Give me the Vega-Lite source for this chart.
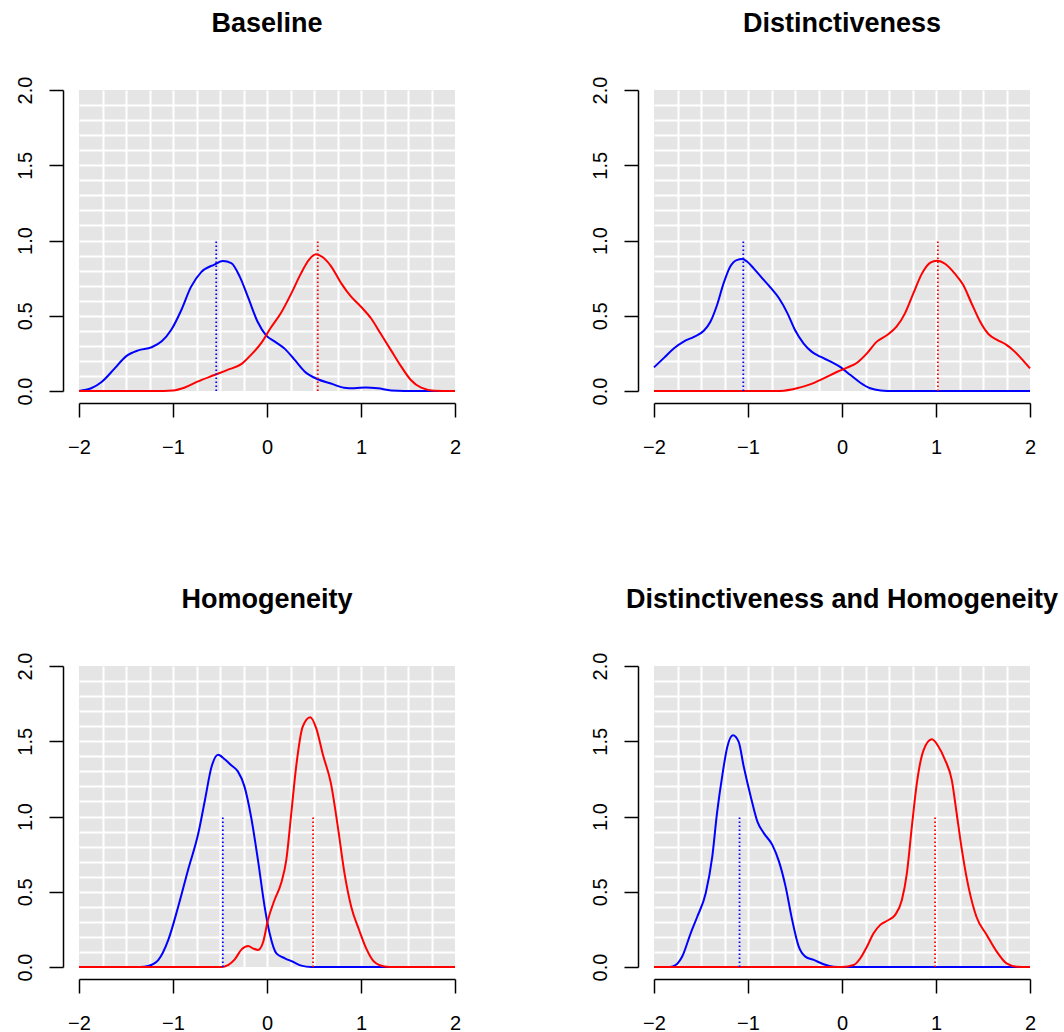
{
  "$schema": "https://vega.github.io/schema/vega-lite/v6.json",
  "background": "white",
  "padding": {"left": 14, "top": 10, "right": 5, "bottom": 5},
  "config": {
    "view": {"fill": "#e5e5e5", "stroke": null},
    "title": {"font": "Liberation Sans", "fontSize": 27, "fontWeight": "bold", "anchor": "middle", "frame": "group", "baseline": "alphabetic", "offset": 38, "color": "black"}
  },
  "datasets": {
    "curves": [
      {"panel":"Baseline","series":"blue","x":-2,"y":0},{"panel":"Baseline","series":"blue","x":-1.87,"y":0.018},{"panel":"Baseline","series":"blue","x":-1.76,"y":0.06},{"panel":"Baseline","series":"blue","x":-1.62,"y":0.15},{"panel":"Baseline","series":"blue","x":-1.5,"y":0.23},{"panel":"Baseline","series":"blue","x":-1.37,"y":0.27},{"panel":"Baseline","series":"blue","x":-1.23,"y":0.29},{"panel":"Baseline","series":"blue","x":-1.12,"y":0.33},{"panel":"Baseline","series":"blue","x":-1.02,"y":0.405},{"panel":"Baseline","series":"blue","x":-0.91,"y":0.54},{"panel":"Baseline","series":"blue","x":-0.81,"y":0.69},{"panel":"Baseline","series":"blue","x":-0.7,"y":0.79},{"panel":"Baseline","series":"blue","x":-0.56,"y":0.84},{"panel":"Baseline","series":"blue","x":-0.47,"y":0.864},{"panel":"Baseline","series":"blue","x":-0.38,"y":0.85},{"panel":"Baseline","series":"blue","x":-0.29,"y":0.76},{"panel":"Baseline","series":"blue","x":-0.2,"y":0.62},{"panel":"Baseline","series":"blue","x":-0.1,"y":0.46},{"panel":"Baseline","series":"blue","x":-0.01,"y":0.37},{"panel":"Baseline","series":"blue","x":0.08,"y":0.33},{"panel":"Baseline","series":"blue","x":0.19,"y":0.28},{"panel":"Baseline","series":"blue","x":0.29,"y":0.21},{"panel":"Baseline","series":"blue","x":0.4,"y":0.13},{"panel":"Baseline","series":"blue","x":0.54,"y":0.078},{"panel":"Baseline","series":"blue","x":0.68,"y":0.05},{"panel":"Baseline","series":"blue","x":0.82,"y":0.022},{"panel":"Baseline","series":"blue","x":0.93,"y":0.018},{"panel":"Baseline","series":"blue","x":1.05,"y":0.024},{"panel":"Baseline","series":"blue","x":1.18,"y":0.018},{"panel":"Baseline","series":"blue","x":1.32,"y":0.004},{"panel":"Baseline","series":"blue","x":1.6,"y":0},{"panel":"Baseline","series":"blue","x":2,"y":0},
      {"panel":"Baseline","series":"red","x":-2,"y":0},{"panel":"Baseline","series":"red","x":-1.2,"y":0},{"panel":"Baseline","series":"red","x":-1.0,"y":0.004},{"panel":"Baseline","series":"red","x":-0.88,"y":0.022},{"panel":"Baseline","series":"red","x":-0.74,"y":0.062},{"panel":"Baseline","series":"red","x":-0.56,"y":0.106},{"panel":"Baseline","series":"red","x":-0.42,"y":0.14},{"panel":"Baseline","series":"red","x":-0.27,"y":0.18},{"panel":"Baseline","series":"red","x":-0.17,"y":0.24},{"panel":"Baseline","series":"red","x":-0.06,"y":0.32},{"panel":"Baseline","series":"red","x":0.04,"y":0.42},{"panel":"Baseline","series":"red","x":0.15,"y":0.52},{"panel":"Baseline","series":"red","x":0.26,"y":0.65},{"panel":"Baseline","series":"red","x":0.36,"y":0.78},{"panel":"Baseline","series":"red","x":0.45,"y":0.875},{"panel":"Baseline","series":"red","x":0.52,"y":0.908},{"panel":"Baseline","series":"red","x":0.59,"y":0.89},{"panel":"Baseline","series":"red","x":0.68,"y":0.83},{"panel":"Baseline","series":"red","x":0.79,"y":0.715},{"panel":"Baseline","series":"red","x":0.89,"y":0.63},{"panel":"Baseline","series":"red","x":1.0,"y":0.56},{"panel":"Baseline","series":"red","x":1.11,"y":0.48},{"panel":"Baseline","series":"red","x":1.21,"y":0.38},{"panel":"Baseline","series":"red","x":1.32,"y":0.27},{"panel":"Baseline","series":"red","x":1.43,"y":0.16},{"panel":"Baseline","series":"red","x":1.53,"y":0.073},{"panel":"Baseline","series":"red","x":1.64,"y":0.022},{"panel":"Baseline","series":"red","x":1.78,"y":0.002},{"panel":"Baseline","series":"red","x":2,"y":0},

      {"panel":"Distinctiveness","series":"blue","x":-2,"y":0.157},{"panel":"Distinctiveness","series":"blue","x":-1.894,"y":0.22},{"panel":"Distinctiveness","series":"blue","x":-1.79,"y":0.283},{"panel":"Distinctiveness","series":"blue","x":-1.68,"y":0.33},{"panel":"Distinctiveness","series":"blue","x":-1.575,"y":0.36},{"panel":"Distinctiveness","series":"blue","x":-1.47,"y":0.4},{"panel":"Distinctiveness","series":"blue","x":-1.4,"y":0.46},{"panel":"Distinctiveness","series":"blue","x":-1.33,"y":0.57},{"panel":"Distinctiveness","series":"blue","x":-1.26,"y":0.715},{"panel":"Distinctiveness","series":"blue","x":-1.19,"y":0.826},{"panel":"Distinctiveness","series":"blue","x":-1.12,"y":0.87},{"panel":"Distinctiveness","series":"blue","x":-1.06,"y":0.877},{"panel":"Distinctiveness","series":"blue","x":-1.01,"y":0.86},{"panel":"Distinctiveness","series":"blue","x":-0.94,"y":0.815},{"panel":"Distinctiveness","series":"blue","x":-0.85,"y":0.75},{"panel":"Distinctiveness","series":"blue","x":-0.76,"y":0.687},{"panel":"Distinctiveness","series":"blue","x":-0.67,"y":0.616},{"panel":"Distinctiveness","series":"blue","x":-0.58,"y":0.516},{"panel":"Distinctiveness","series":"blue","x":-0.5,"y":0.405},{"panel":"Distinctiveness","series":"blue","x":-0.41,"y":0.317},{"panel":"Distinctiveness","series":"blue","x":-0.32,"y":0.26},{"panel":"Distinctiveness","series":"blue","x":-0.23,"y":0.228},{"panel":"Distinctiveness","series":"blue","x":-0.12,"y":0.195},{"panel":"Distinctiveness","series":"blue","x":-0.02,"y":0.16},{"panel":"Distinctiveness","series":"blue","x":0.09,"y":0.106},{"panel":"Distinctiveness","series":"blue","x":0.195,"y":0.055},{"panel":"Distinctiveness","series":"blue","x":0.3,"y":0.018},{"panel":"Distinctiveness","series":"blue","x":0.41,"y":0.004},{"panel":"Distinctiveness","series":"blue","x":0.55,"y":0},{"panel":"Distinctiveness","series":"blue","x":2,"y":0},
      {"panel":"Distinctiveness","series":"red","x":-2,"y":0},{"panel":"Distinctiveness","series":"red","x":-0.7,"y":0},{"panel":"Distinctiveness","series":"red","x":-0.62,"y":0.002},{"panel":"Distinctiveness","series":"red","x":-0.48,"y":0.018},{"panel":"Distinctiveness","series":"red","x":-0.34,"y":0.044},{"panel":"Distinctiveness","series":"red","x":-0.195,"y":0.084},{"panel":"Distinctiveness","series":"red","x":-0.05,"y":0.128},{"panel":"Distinctiveness","series":"red","x":0.053,"y":0.155},{"panel":"Distinctiveness","series":"red","x":0.16,"y":0.188},{"panel":"Distinctiveness","series":"red","x":0.265,"y":0.25},{"panel":"Distinctiveness","series":"red","x":0.37,"y":0.328},{"panel":"Distinctiveness","series":"red","x":0.48,"y":0.372},{"panel":"Distinctiveness","series":"red","x":0.58,"y":0.427},{"panel":"Distinctiveness","series":"red","x":0.67,"y":0.516},{"panel":"Distinctiveness","series":"red","x":0.76,"y":0.65},{"panel":"Distinctiveness","series":"red","x":0.85,"y":0.78},{"panel":"Distinctiveness","series":"red","x":0.94,"y":0.853},{"panel":"Distinctiveness","series":"red","x":1.01,"y":0.866},{"panel":"Distinctiveness","series":"red","x":1.1,"y":0.844},{"panel":"Distinctiveness","series":"red","x":1.2,"y":0.78},{"panel":"Distinctiveness","series":"red","x":1.29,"y":0.704},{"panel":"Distinctiveness","series":"red","x":1.38,"y":0.58},{"panel":"Distinctiveness","series":"red","x":1.47,"y":0.46},{"panel":"Distinctiveness","series":"red","x":1.56,"y":0.377},{"panel":"Distinctiveness","series":"red","x":1.65,"y":0.34},{"panel":"Distinctiveness","series":"red","x":1.75,"y":0.306},{"panel":"Distinctiveness","series":"red","x":1.84,"y":0.26},{"panel":"Distinctiveness","series":"red","x":1.93,"y":0.2},{"panel":"Distinctiveness","series":"red","x":2,"y":0.15},

      {"panel":"Homogeneity","series":"blue","x":-2,"y":0},{"panel":"Homogeneity","series":"blue","x":-1.35,"y":0},{"panel":"Homogeneity","series":"blue","x":-1.264,"y":0.007},{"panel":"Homogeneity","series":"blue","x":-1.157,"y":0.046},{"panel":"Homogeneity","series":"blue","x":-1.05,"y":0.18},{"panel":"Homogeneity","series":"blue","x":-0.945,"y":0.4},{"panel":"Homogeneity","series":"blue","x":-0.84,"y":0.645},{"panel":"Homogeneity","series":"blue","x":-0.73,"y":0.89},{"panel":"Homogeneity","series":"blue","x":-0.66,"y":1.11},{"panel":"Homogeneity","series":"blue","x":-0.59,"y":1.33},{"panel":"Homogeneity","series":"blue","x":-0.52,"y":1.41},{"panel":"Homogeneity","series":"blue","x":-0.45,"y":1.38},{"panel":"Homogeneity","series":"blue","x":-0.38,"y":1.34},{"panel":"Homogeneity","series":"blue","x":-0.31,"y":1.3},{"panel":"Homogeneity","series":"blue","x":-0.24,"y":1.2},{"panel":"Homogeneity","series":"blue","x":-0.17,"y":1.0},{"panel":"Homogeneity","series":"blue","x":-0.096,"y":0.71},{"panel":"Homogeneity","series":"blue","x":-0.025,"y":0.4},{"panel":"Homogeneity","series":"blue","x":0.028,"y":0.224},{"panel":"Homogeneity","series":"blue","x":0.1,"y":0.09},{"panel":"Homogeneity","series":"blue","x":0.19,"y":0.058},{"panel":"Homogeneity","series":"blue","x":0.276,"y":0.035},{"panel":"Homogeneity","series":"blue","x":0.365,"y":0.009},{"panel":"Homogeneity","series":"blue","x":0.47,"y":0},{"panel":"Homogeneity","series":"blue","x":2,"y":0},
      {"panel":"Homogeneity","series":"red","x":-2,"y":0},{"panel":"Homogeneity","series":"red","x":-0.485,"y":0},{"panel":"Homogeneity","series":"red","x":-0.414,"y":0.013},{"panel":"Homogeneity","series":"red","x":-0.343,"y":0.051},{"panel":"Homogeneity","series":"red","x":-0.27,"y":0.117},{"panel":"Homogeneity","series":"red","x":-0.2,"y":0.14},{"panel":"Homogeneity","series":"red","x":-0.15,"y":0.124},{"panel":"Homogeneity","series":"red","x":-0.096,"y":0.113},{"panel":"Homogeneity","series":"red","x":-0.04,"y":0.168},{"panel":"Homogeneity","series":"red","x":0.01,"y":0.312},{"panel":"Homogeneity","series":"red","x":0.08,"y":0.445},{"panel":"Homogeneity","series":"red","x":0.15,"y":0.556},{"panel":"Homogeneity","series":"red","x":0.205,"y":0.71},{"panel":"Homogeneity","series":"red","x":0.258,"y":1.02},{"panel":"Homogeneity","series":"red","x":0.31,"y":1.33},{"panel":"Homogeneity","series":"red","x":0.38,"y":1.597},{"panel":"Homogeneity","series":"red","x":0.46,"y":1.66},{"panel":"Homogeneity","series":"red","x":0.524,"y":1.586},{"panel":"Homogeneity","series":"red","x":0.595,"y":1.41},{"panel":"Homogeneity","series":"red","x":0.68,"y":1.22},{"panel":"Homogeneity","series":"red","x":0.754,"y":0.93},{"panel":"Homogeneity","series":"red","x":0.825,"y":0.62},{"panel":"Homogeneity","series":"red","x":0.896,"y":0.4},{"panel":"Homogeneity","series":"red","x":0.98,"y":0.246},{"panel":"Homogeneity","series":"red","x":1.055,"y":0.124},{"panel":"Homogeneity","series":"red","x":1.14,"y":0.035},{"panel":"Homogeneity","series":"red","x":1.25,"y":0.004},{"panel":"Homogeneity","series":"red","x":1.35,"y":0},{"panel":"Homogeneity","series":"red","x":2,"y":0},

      {"panel":"Both","series":"blue","x":-2,"y":0},{"panel":"Both","series":"blue","x":-1.83,"y":0},{"panel":"Both","series":"blue","x":-1.77,"y":0.013},{"panel":"Both","series":"blue","x":-1.7,"y":0.07},{"panel":"Both","series":"blue","x":-1.61,"y":0.224},{"panel":"Both","series":"blue","x":-1.54,"y":0.334},{"panel":"Both","series":"blue","x":-1.45,"y":0.49},{"panel":"Both","series":"blue","x":-1.38,"y":0.733},{"panel":"Both","series":"blue","x":-1.33,"y":1.02},{"panel":"Both","series":"blue","x":-1.27,"y":1.287},{"panel":"Both","series":"blue","x":-1.22,"y":1.464},{"panel":"Both","series":"blue","x":-1.16,"y":1.54},{"panel":"Both","series":"blue","x":-1.1,"y":1.497},{"panel":"Both","series":"blue","x":-1.045,"y":1.33},{"panel":"Both","series":"blue","x":-0.97,"y":1.13},{"panel":"Both","series":"blue","x":-0.9,"y":0.966},{"panel":"Both","series":"blue","x":-0.83,"y":0.888},{"panel":"Both","series":"blue","x":-0.74,"y":0.81},{"panel":"Both","series":"blue","x":-0.67,"y":0.7},{"panel":"Both","series":"blue","x":-0.6,"y":0.534},{"panel":"Both","series":"blue","x":-0.53,"y":0.312},{"panel":"Both","series":"blue","x":-0.46,"y":0.135},{"panel":"Both","series":"blue","x":-0.39,"y":0.069},{"panel":"Both","series":"blue","x":-0.3,"y":0.047},{"panel":"Both","series":"blue","x":-0.195,"y":0.018},{"panel":"Both","series":"blue","x":-0.09,"y":0.002},{"panel":"Both","series":"blue","x":0,"y":0},{"panel":"Both","series":"blue","x":2,"y":0},
      {"panel":"Both","series":"red","x":-2,"y":0},{"panel":"Both","series":"red","x":0,"y":0},{"panel":"Both","series":"red","x":0.124,"y":0.013},{"panel":"Both","series":"red","x":0.195,"y":0.058},{"panel":"Both","series":"red","x":0.265,"y":0.135},{"panel":"Both","series":"red","x":0.336,"y":0.224},{"panel":"Both","series":"red","x":0.407,"y":0.28},{"panel":"Both","series":"red","x":0.495,"y":0.312},{"panel":"Both","series":"red","x":0.566,"y":0.346},{"panel":"Both","series":"red","x":0.637,"y":0.445},{"panel":"Both","series":"red","x":0.69,"y":0.622},{"panel":"Both","series":"red","x":0.743,"y":0.932},{"panel":"Both","series":"red","x":0.796,"y":1.22},{"panel":"Both","series":"red","x":0.867,"y":1.44},{"panel":"Both","series":"red","x":0.956,"y":1.513},{"panel":"Both","series":"red","x":1.027,"y":1.464},{"panel":"Both","series":"red","x":1.097,"y":1.375},{"panel":"Both","series":"red","x":1.168,"y":1.242},{"panel":"Both","series":"red","x":1.22,"y":1.02},{"panel":"Both","series":"red","x":1.27,"y":0.8},{"panel":"Both","series":"red","x":1.345,"y":0.534},{"panel":"Both","series":"red","x":1.43,"y":0.334},{"panel":"Both","series":"red","x":1.54,"y":0.213},{"panel":"Both","series":"red","x":1.646,"y":0.102},{"panel":"Both","series":"red","x":1.75,"y":0.024},{"panel":"Both","series":"red","x":1.86,"y":0.002},{"panel":"Both","series":"red","x":2,"y":0}
    ],
    "means": [
      {"panel":"Baseline","series":"blue","x":-0.54},{"panel":"Baseline","series":"red","x":0.54},
      {"panel":"Distinctiveness","series":"blue","x":-1.05},{"panel":"Distinctiveness","series":"red","x":1.02},
      {"panel":"Homogeneity","series":"blue","x":-0.47},{"panel":"Homogeneity","series":"red","x":0.49},
      {"panel":"Both","series":"blue","x":-1.09},{"panel":"Both","series":"red","x":0.99}
    ]
  },
  "columns": 2,
  "spacing": {"row": 275, "column": 199},
  "bounds": "flush",
  "concat": [
    {
      "title": {"text": "Baseline"},
      "width": 376, "height": 301,
      "encoding": {
        "x": {"field": "x", "type": "quantitative", "scale": {"domain": [-2, 2], "nice": false, "zero": false},
          "axis": {"values": [-2,-1.75,-1.5,-1.25,-1,-0.75,-0.5,-0.25,0,0.25,0.5,0.75,1,1.25,1.5,1.75,2], "title": null, "offset": 12, "zindex": 0, "domainColor": "black", "domainWidth": 1.5, "tickColor": "black", "tickWidth": 1.5, "tickSize": 14, "tickOpacity": {"condition": {"test": "datum.value % 1 === 0", "value": 1}, "value": 0}, "grid": true, "gridColor": "white", "gridWidth": 2, "gridOpacity": {"condition": {"test": "abs(datum.value) > 1.99", "value": 0}, "value": 1}, "format": ".0f", "labelExpr": "datum.value % 1 === 0 ? datum.label : ''", "labelFont": "Liberation Sans", "labelFontSize": 20, "labelColor": "black", "labelPadding": 20, "labelFlush": false, "labelOverlap": false, "labelBound": false}},
        "color": {"field": "series", "type": "nominal", "scale": {"domain": ["blue", "red"], "range": ["#0000ff", "#ff0000"]}, "legend": null}
      },
      "layer": [
        {"data": {"name": "curves"}, "transform": [{"filter": "datum.panel === 'Baseline'"}],
         "mark": {"type": "line", "strokeWidth": 2, "interpolate": "monotone"},
         "encoding": {"y": {"field": "y", "type": "quantitative", "scale": {"domain": [0, 2], "nice": false},
           "axis": {"values": [0,0.1,0.2,0.3,0.4,0.5,0.6,0.7,0.8,0.9,1,1.1,1.2,1.3,1.4,1.5,1.6,1.7,1.8,1.9,2], "title": null, "offset": 16, "zindex": 0, "domainColor": "black", "domainWidth": 1.5, "tickColor": "black", "tickWidth": 1.5, "tickSize": 14, "tickOpacity": {"condition": {"test": "abs(datum.value*2 - round(datum.value*2)) < 0.001", "value": 1}, "value": 0}, "grid": true, "gridColor": "white", "gridWidth": 2, "gridOpacity": {"condition": {"test": "datum.value < 0.01 || datum.value > 1.99", "value": 0}, "value": 1}, "labelExpr": "abs(datum.value*2 - round(datum.value*2)) < 0.001 ? format(datum.value, '.1f') : ''", "labelAngle": 270, "labelAlign": "center", "labelBaseline": "alphabetic", "labelFont": "Liberation Sans", "labelFontSize": 20, "labelColor": "black", "labelPadding": 18, "labelFlush": false, "labelOverlap": false, "labelBound": false}}}},
        {"data": {"name": "means"}, "transform": [{"filter": "datum.panel === 'Baseline'"}],
         "mark": {"type": "rule", "strokeDash": [1.5, 2.5], "strokeWidth": 1.8},
         "encoding": {"y": {"datum": 0, "type": "quantitative", "scale": {"domain": [0, 2], "nice": false},
           "axis": {"values": [0,0.1,0.2,0.3,0.4,0.5,0.6,0.7,0.8,0.9,1,1.1,1.2,1.3,1.4,1.5,1.6,1.7,1.8,1.9,2], "title": null, "offset": 16, "zindex": 0, "domainColor": "black", "domainWidth": 1.5, "tickColor": "black", "tickWidth": 1.5, "tickSize": 14, "tickOpacity": {"condition": {"test": "abs(datum.value*2 - round(datum.value*2)) < 0.001", "value": 1}, "value": 0}, "grid": true, "gridColor": "white", "gridWidth": 2, "gridOpacity": {"condition": {"test": "datum.value < 0.01 || datum.value > 1.99", "value": 0}, "value": 1}, "labelExpr": "abs(datum.value*2 - round(datum.value*2)) < 0.001 ? format(datum.value, '.1f') : ''", "labelAngle": 270, "labelAlign": "center", "labelBaseline": "alphabetic", "labelFont": "Liberation Sans", "labelFontSize": 20, "labelColor": "black", "labelPadding": 18, "labelFlush": false, "labelOverlap": false, "labelBound": false}},
           "y2": {"datum": 1}}}
      ]
    },
    {
      "title": {"text": "Distinctiveness"},
      "width": 376, "height": 301,
      "encoding": {
        "x": {"field": "x", "type": "quantitative", "scale": {"domain": [-2, 2], "nice": false, "zero": false},
          "axis": {"values": [-2,-1.75,-1.5,-1.25,-1,-0.75,-0.5,-0.25,0,0.25,0.5,0.75,1,1.25,1.5,1.75,2], "title": null, "offset": 12, "zindex": 0, "domainColor": "black", "domainWidth": 1.5, "tickColor": "black", "tickWidth": 1.5, "tickSize": 14, "tickOpacity": {"condition": {"test": "datum.value % 1 === 0", "value": 1}, "value": 0}, "grid": true, "gridColor": "white", "gridWidth": 2, "gridOpacity": {"condition": {"test": "abs(datum.value) > 1.99", "value": 0}, "value": 1}, "format": ".0f", "labelExpr": "datum.value % 1 === 0 ? datum.label : ''", "labelFont": "Liberation Sans", "labelFontSize": 20, "labelColor": "black", "labelPadding": 20, "labelFlush": false, "labelOverlap": false, "labelBound": false}},
        "color": {"field": "series", "type": "nominal", "scale": {"domain": ["blue", "red"], "range": ["#0000ff", "#ff0000"]}, "legend": null}
      },
      "layer": [
        {"data": {"name": "curves"}, "transform": [{"filter": "datum.panel === 'Distinctiveness'"}],
         "mark": {"type": "line", "strokeWidth": 2, "interpolate": "monotone"},
         "encoding": {"y": {"field": "y", "type": "quantitative", "scale": {"domain": [0, 2], "nice": false},
           "axis": {"values": [0,0.1,0.2,0.3,0.4,0.5,0.6,0.7,0.8,0.9,1,1.1,1.2,1.3,1.4,1.5,1.6,1.7,1.8,1.9,2], "title": null, "offset": 16, "zindex": 0, "domainColor": "black", "domainWidth": 1.5, "tickColor": "black", "tickWidth": 1.5, "tickSize": 14, "tickOpacity": {"condition": {"test": "abs(datum.value*2 - round(datum.value*2)) < 0.001", "value": 1}, "value": 0}, "grid": true, "gridColor": "white", "gridWidth": 2, "gridOpacity": {"condition": {"test": "datum.value < 0.01 || datum.value > 1.99", "value": 0}, "value": 1}, "labelExpr": "abs(datum.value*2 - round(datum.value*2)) < 0.001 ? format(datum.value, '.1f') : ''", "labelAngle": 270, "labelAlign": "center", "labelBaseline": "alphabetic", "labelFont": "Liberation Sans", "labelFontSize": 20, "labelColor": "black", "labelPadding": 18, "labelFlush": false, "labelOverlap": false, "labelBound": false}}}},
        {"data": {"name": "means"}, "transform": [{"filter": "datum.panel === 'Distinctiveness'"}],
         "mark": {"type": "rule", "strokeDash": [1.5, 2.5], "strokeWidth": 1.8},
         "encoding": {"y": {"datum": 0, "type": "quantitative", "scale": {"domain": [0, 2], "nice": false},
           "axis": {"values": [0,0.1,0.2,0.3,0.4,0.5,0.6,0.7,0.8,0.9,1,1.1,1.2,1.3,1.4,1.5,1.6,1.7,1.8,1.9,2], "title": null, "offset": 16, "zindex": 0, "domainColor": "black", "domainWidth": 1.5, "tickColor": "black", "tickWidth": 1.5, "tickSize": 14, "tickOpacity": {"condition": {"test": "abs(datum.value*2 - round(datum.value*2)) < 0.001", "value": 1}, "value": 0}, "grid": true, "gridColor": "white", "gridWidth": 2, "gridOpacity": {"condition": {"test": "datum.value < 0.01 || datum.value > 1.99", "value": 0}, "value": 1}, "labelExpr": "abs(datum.value*2 - round(datum.value*2)) < 0.001 ? format(datum.value, '.1f') : ''", "labelAngle": 270, "labelAlign": "center", "labelBaseline": "alphabetic", "labelFont": "Liberation Sans", "labelFontSize": 20, "labelColor": "black", "labelPadding": 18, "labelFlush": false, "labelOverlap": false, "labelBound": false}},
           "y2": {"datum": 1}}}
      ]
    },
    {
      "title": {"text": "Homogeneity"},
      "width": 376, "height": 301,
      "encoding": {
        "x": {"field": "x", "type": "quantitative", "scale": {"domain": [-2, 2], "nice": false, "zero": false},
          "axis": {"values": [-2,-1.75,-1.5,-1.25,-1,-0.75,-0.5,-0.25,0,0.25,0.5,0.75,1,1.25,1.5,1.75,2], "title": null, "offset": 12, "zindex": 0, "domainColor": "black", "domainWidth": 1.5, "tickColor": "black", "tickWidth": 1.5, "tickSize": 14, "tickOpacity": {"condition": {"test": "datum.value % 1 === 0", "value": 1}, "value": 0}, "grid": true, "gridColor": "white", "gridWidth": 2, "gridOpacity": {"condition": {"test": "abs(datum.value) > 1.99", "value": 0}, "value": 1}, "format": ".0f", "labelExpr": "datum.value % 1 === 0 ? datum.label : ''", "labelFont": "Liberation Sans", "labelFontSize": 20, "labelColor": "black", "labelPadding": 20, "labelFlush": false, "labelOverlap": false, "labelBound": false}},
        "color": {"field": "series", "type": "nominal", "scale": {"domain": ["blue", "red"], "range": ["#0000ff", "#ff0000"]}, "legend": null}
      },
      "layer": [
        {"data": {"name": "curves"}, "transform": [{"filter": "datum.panel === 'Homogeneity'"}],
         "mark": {"type": "line", "strokeWidth": 2, "interpolate": "monotone"},
         "encoding": {"y": {"field": "y", "type": "quantitative", "scale": {"domain": [0, 2], "nice": false},
           "axis": {"values": [0,0.1,0.2,0.3,0.4,0.5,0.6,0.7,0.8,0.9,1,1.1,1.2,1.3,1.4,1.5,1.6,1.7,1.8,1.9,2], "title": null, "offset": 16, "zindex": 0, "domainColor": "black", "domainWidth": 1.5, "tickColor": "black", "tickWidth": 1.5, "tickSize": 14, "tickOpacity": {"condition": {"test": "abs(datum.value*2 - round(datum.value*2)) < 0.001", "value": 1}, "value": 0}, "grid": true, "gridColor": "white", "gridWidth": 2, "gridOpacity": {"condition": {"test": "datum.value < 0.01 || datum.value > 1.99", "value": 0}, "value": 1}, "labelExpr": "abs(datum.value*2 - round(datum.value*2)) < 0.001 ? format(datum.value, '.1f') : ''", "labelAngle": 270, "labelAlign": "center", "labelBaseline": "alphabetic", "labelFont": "Liberation Sans", "labelFontSize": 20, "labelColor": "black", "labelPadding": 18, "labelFlush": false, "labelOverlap": false, "labelBound": false}}}},
        {"data": {"name": "means"}, "transform": [{"filter": "datum.panel === 'Homogeneity'"}],
         "mark": {"type": "rule", "strokeDash": [1.5, 2.5], "strokeWidth": 1.8},
         "encoding": {"y": {"datum": 0, "type": "quantitative", "scale": {"domain": [0, 2], "nice": false},
           "axis": {"values": [0,0.1,0.2,0.3,0.4,0.5,0.6,0.7,0.8,0.9,1,1.1,1.2,1.3,1.4,1.5,1.6,1.7,1.8,1.9,2], "title": null, "offset": 16, "zindex": 0, "domainColor": "black", "domainWidth": 1.5, "tickColor": "black", "tickWidth": 1.5, "tickSize": 14, "tickOpacity": {"condition": {"test": "abs(datum.value*2 - round(datum.value*2)) < 0.001", "value": 1}, "value": 0}, "grid": true, "gridColor": "white", "gridWidth": 2, "gridOpacity": {"condition": {"test": "datum.value < 0.01 || datum.value > 1.99", "value": 0}, "value": 1}, "labelExpr": "abs(datum.value*2 - round(datum.value*2)) < 0.001 ? format(datum.value, '.1f') : ''", "labelAngle": 270, "labelAlign": "center", "labelBaseline": "alphabetic", "labelFont": "Liberation Sans", "labelFontSize": 20, "labelColor": "black", "labelPadding": 18, "labelFlush": false, "labelOverlap": false, "labelBound": false}},
           "y2": {"datum": 1}}}
      ]
    },
    {
      "title": {"text": "Distinctiveness and Homogeneity"},
      "width": 376, "height": 301,
      "encoding": {
        "x": {"field": "x", "type": "quantitative", "scale": {"domain": [-2, 2], "nice": false, "zero": false},
          "axis": {"values": [-2,-1.75,-1.5,-1.25,-1,-0.75,-0.5,-0.25,0,0.25,0.5,0.75,1,1.25,1.5,1.75,2], "title": null, "offset": 12, "zindex": 0, "domainColor": "black", "domainWidth": 1.5, "tickColor": "black", "tickWidth": 1.5, "tickSize": 14, "tickOpacity": {"condition": {"test": "datum.value % 1 === 0", "value": 1}, "value": 0}, "grid": true, "gridColor": "white", "gridWidth": 2, "gridOpacity": {"condition": {"test": "abs(datum.value) > 1.99", "value": 0}, "value": 1}, "format": ".0f", "labelExpr": "datum.value % 1 === 0 ? datum.label : ''", "labelFont": "Liberation Sans", "labelFontSize": 20, "labelColor": "black", "labelPadding": 20, "labelFlush": false, "labelOverlap": false, "labelBound": false}},
        "color": {"field": "series", "type": "nominal", "scale": {"domain": ["blue", "red"], "range": ["#0000ff", "#ff0000"]}, "legend": null}
      },
      "layer": [
        {"data": {"name": "curves"}, "transform": [{"filter": "datum.panel === 'Both'"}],
         "mark": {"type": "line", "strokeWidth": 2, "interpolate": "monotone"},
         "encoding": {"y": {"field": "y", "type": "quantitative", "scale": {"domain": [0, 2], "nice": false},
           "axis": {"values": [0,0.1,0.2,0.3,0.4,0.5,0.6,0.7,0.8,0.9,1,1.1,1.2,1.3,1.4,1.5,1.6,1.7,1.8,1.9,2], "title": null, "offset": 16, "zindex": 0, "domainColor": "black", "domainWidth": 1.5, "tickColor": "black", "tickWidth": 1.5, "tickSize": 14, "tickOpacity": {"condition": {"test": "abs(datum.value*2 - round(datum.value*2)) < 0.001", "value": 1}, "value": 0}, "grid": true, "gridColor": "white", "gridWidth": 2, "gridOpacity": {"condition": {"test": "datum.value < 0.01 || datum.value > 1.99", "value": 0}, "value": 1}, "labelExpr": "abs(datum.value*2 - round(datum.value*2)) < 0.001 ? format(datum.value, '.1f') : ''", "labelAngle": 270, "labelAlign": "center", "labelBaseline": "alphabetic", "labelFont": "Liberation Sans", "labelFontSize": 20, "labelColor": "black", "labelPadding": 18, "labelFlush": false, "labelOverlap": false, "labelBound": false}}}},
        {"data": {"name": "means"}, "transform": [{"filter": "datum.panel === 'Both'"}],
         "mark": {"type": "rule", "strokeDash": [1.5, 2.5], "strokeWidth": 1.8},
         "encoding": {"y": {"datum": 0, "type": "quantitative", "scale": {"domain": [0, 2], "nice": false},
           "axis": {"values": [0,0.1,0.2,0.3,0.4,0.5,0.6,0.7,0.8,0.9,1,1.1,1.2,1.3,1.4,1.5,1.6,1.7,1.8,1.9,2], "title": null, "offset": 16, "zindex": 0, "domainColor": "black", "domainWidth": 1.5, "tickColor": "black", "tickWidth": 1.5, "tickSize": 14, "tickOpacity": {"condition": {"test": "abs(datum.value*2 - round(datum.value*2)) < 0.001", "value": 1}, "value": 0}, "grid": true, "gridColor": "white", "gridWidth": 2, "gridOpacity": {"condition": {"test": "datum.value < 0.01 || datum.value > 1.99", "value": 0}, "value": 1}, "labelExpr": "abs(datum.value*2 - round(datum.value*2)) < 0.001 ? format(datum.value, '.1f') : ''", "labelAngle": 270, "labelAlign": "center", "labelBaseline": "alphabetic", "labelFont": "Liberation Sans", "labelFontSize": 20, "labelColor": "black", "labelPadding": 18, "labelFlush": false, "labelOverlap": false, "labelBound": false}},
           "y2": {"datum": 1}}}
      ]
    }
  ]
}
